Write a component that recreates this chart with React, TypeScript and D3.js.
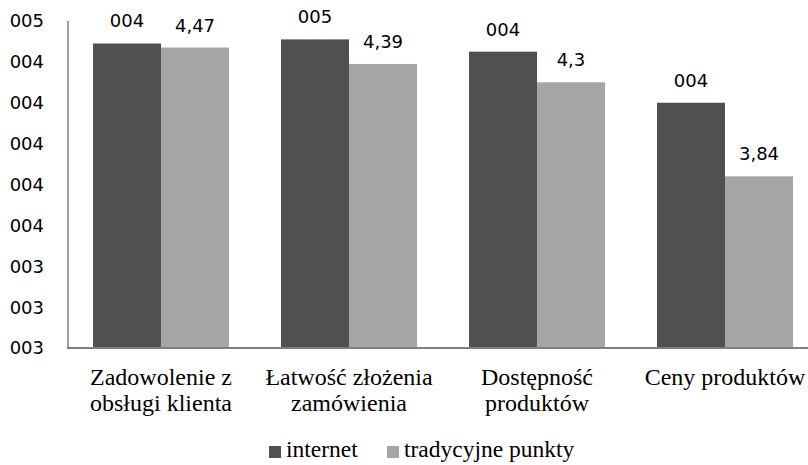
import React from "react";
import * as d3 from "d3";

const categories: string[][] = [
  ["Zadowolenie z", "obsługi klienta"],
  ["Łatwość złożenia", "zamówienia"],
  ["Dostępność", "produktów"],
  ["Ceny produktów"],
];
const seriesNames = ["internet", "tradycyjne punkty"];
const internet = [4.49, 4.51, 4.45, 4.2];
const tradycyjne = [4.47, 4.39, 4.3, 3.84];
const yTicks = [3.0, 3.2, 3.4, 3.6, 3.8, 4.0, 4.2, 4.4, 4.6];
const colors = ["#505050", "#a5a5a5"];

const fmt000 = (v: number) => String(Math.round(v)).padStart(3, "0");
const fmtDec = (v: number) => String(v).replace(".", ",");

export default function App() {
  const W = 808, H = 465;
  const keys = categories.map((_, i) => String(i));
  const x0 = d3.scaleBand().domain(keys).range([67, 819]).paddingInner(0.2766).paddingOuter(0.1383);
  const x1 = d3.scaleBand().domain(seriesNames).range([0, x0.bandwidth()]);
  const y = d3.scaleLinear().domain([3, 4.6]).range([348, 21]);
  const series = [internet, tradycyjne];
  const formats = [fmt000, fmtDec];
  const sans = "DejaVu Sans";
  const serif = "Liberation Serif";

  return (
    <svg width={W} height={H} style={{ position: "absolute", left: 0, top: 0, background: "#fff" }}>
      {yTicks.map((t) => (
        <text key={t} x={44} y={y(t)} dy="0.36em" textAnchor="end" fontFamily={sans} fontSize={18} fill="#000">
          {fmt000(t)}
        </text>
      ))}
      {series.map((vals, si) =>
        vals.map((v, ci) => {
          const bx = (x0(keys[ci]) as number) + (x1(seriesNames[si]) as number);
          return (
            <g key={`${si}-${ci}`}>
              <rect x={bx} y={y(v)} width={x1.bandwidth()} height={y(3) - y(v)} fill={colors[si]} />
              <text x={bx + x1.bandwidth() / 2} y={y(v) - 16} textAnchor="middle" fontFamily={sans} fontSize={18} fill="#000">
                {formats[si](v)}
              </text>
            </g>
          );
        })
      )}
      <line x1={68} x2={68} y1={21} y2={348} stroke="#7f7f7f" strokeWidth={1.5} />
      <line x1={67} x2={W} y1={348} y2={348} stroke="#7f7f7f" strokeWidth={2} />
      {categories.map((lines, ci) =>
        lines.map((l, li) => (
          <text
            key={`${ci}-${li}`}
            x={(x0(keys[ci]) as number) + x0.bandwidth() / 2}
            y={385 + li * 26}
            textAnchor="middle"
            fontFamily={serif}
            fontSize={24}
            fill="#000"
          >
            {l}
          </text>
        ))
      )}
      {seriesNames.map((n, i) => {
        const lx = i === 0 ? 269 : 387;
        return (
          <g key={n}>
            <rect x={lx} y={446} width={12} height={12} fill={colors[i]} />
            <text x={lx + 17} y={457} fontFamily={serif} fontSize={23.5} fill="#000">
              {n}
            </text>
          </g>
        );
      })}
    </svg>
  );
}
